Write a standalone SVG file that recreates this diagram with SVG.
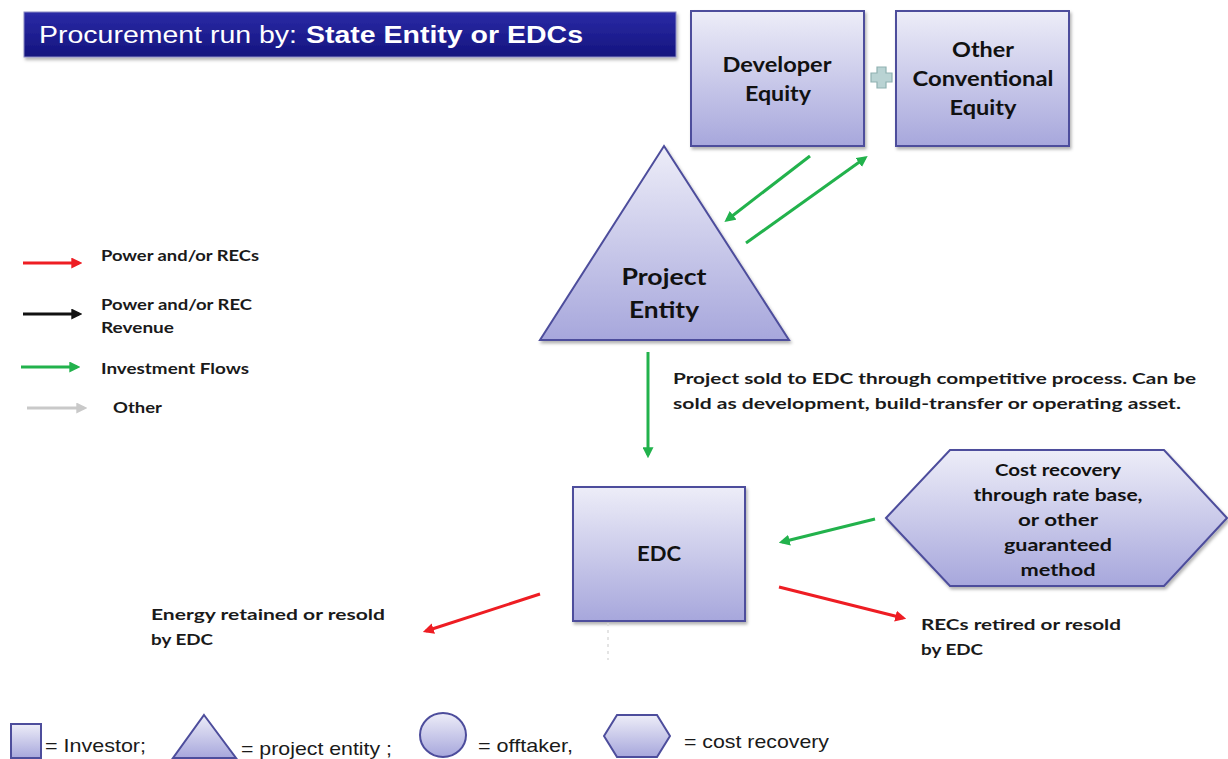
<svg xmlns="http://www.w3.org/2000/svg" width="1228" height="759" viewBox="0 0 1228 759">
  <style>
    .lbl { font-family: Lato, "Open Sans", "Liberation Sans", sans-serif; font-weight: 700; fill: #1a1a1a; }
    .node-lbl { font-family: Lato, "Open Sans", "Liberation Sans", sans-serif; font-weight: 700; fill: #111; text-anchor: middle; }
    .key { font-family: "Liberation Sans", Arial, sans-serif; fill: #1a1a1a; }
    .shape { fill: url(#shapeFill); stroke: #4d4d9c; stroke-width: 2; }
    .flow { fill: none; stroke-width: 3; }
    .green { stroke: #22b24c; }
    .red { stroke: #ee1d23; }
    .black { stroke: #111; }
    .grey { stroke: #c9c9c9; }
  </style>
  <defs>
    <linearGradient id="shapeFill" x1="0" y1="0" x2="0" y2="1">
      <stop offset="0" stop-color="#ededf8"/>
      <stop offset="1" stop-color="#a7a7dc"/>
    </linearGradient>
    <linearGradient id="titleFill" x1="0" y1="0" x2="0" y2="1">
      <stop offset="0" stop-color="#2a2aa6"/>
      <stop offset="1" stop-color="#14147e"/>
    </linearGradient>
    <filter id="shadow" x="-10%" y="-10%" width="125%" height="130%">
      <feDropShadow dx="1.5" dy="2.5" stdDeviation="1.8" flood-color="#000" flood-opacity="0.3"/>
    </filter>
    <marker id="ahGreen" viewBox="0 0 10 10" refX="7" refY="5" markerWidth="11" markerHeight="11" markerUnits="userSpaceOnUse" orient="auto">
      <path d="M0,0 L10,5 L0,10 z" fill="#22b24c"/>
    </marker>
    <marker id="ahRed" viewBox="0 0 10 10" refX="7" refY="5" markerWidth="11" markerHeight="11" markerUnits="userSpaceOnUse" orient="auto">
      <path d="M0,0 L10,5 L0,10 z" fill="#ee1d23"/>
    </marker>
    <marker id="ahBlack" viewBox="0 0 10 10" refX="7" refY="5" markerWidth="11" markerHeight="11" markerUnits="userSpaceOnUse" orient="auto">
      <path d="M0,0 L10,5 L0,10 z" fill="#111"/>
    </marker>
    <marker id="ahGrey" viewBox="0 0 10 10" refX="7" refY="5" markerWidth="11" markerHeight="11" markerUnits="userSpaceOnUse" orient="auto">
      <path d="M0,0 L10,5 L0,10 z" fill="#c9c9c9"/>
    </marker>
  </defs>

  <rect width="1228" height="759" fill="#fff"/>

  <!-- title banner -->
  <g id="title">
    <rect x="24" y="12" width="652" height="45" fill="url(#titleFill)" stroke="#8c8cc4" stroke-width="1" filter="url(#shadow)"/>
    <text x="39" y="43" font-family="'Liberation Sans', Arial, sans-serif" font-size="23" fill="#fff"><tspan textLength="258" lengthAdjust="spacingAndGlyphs">Procurement run by:</tspan><tspan x="306" font-weight="700" textLength="277" lengthAdjust="spacingAndGlyphs">State Entity or EDCs</tspan></text>
  </g>

  <!-- investors -->
  <g id="developer-equity">
    <rect class="shape" x="691" y="11" width="173" height="135" filter="url(#shadow)"/>
    <text class="node-lbl" x="777" y="72" font-size="21" textLength="109" lengthAdjust="spacingAndGlyphs">Developer</text>
    <text class="node-lbl" x="778" y="101" font-size="21" textLength="66" lengthAdjust="spacingAndGlyphs">Equity</text>
  </g>

  <g id="plus">
    <path d="M877,67 h9 v6 h6 v9 h-6 v6 h-9 v-6 h-6 v-9 h6 z" fill="#b9d3d3" stroke="#8fb1b1" stroke-width="1.2"/>
  </g>

  <g id="other-equity">
    <rect class="shape" x="896" y="11" width="173" height="135" filter="url(#shadow)"/>
    <text class="node-lbl" x="983" y="57" font-size="21" textLength="62" lengthAdjust="spacingAndGlyphs">Other</text>
    <text class="node-lbl" x="983" y="86" font-size="21" textLength="141" lengthAdjust="spacingAndGlyphs">Conventional</text>
    <text class="node-lbl" x="983" y="115" font-size="21" textLength="67" lengthAdjust="spacingAndGlyphs">Equity</text>
  </g>

  <!-- project entity -->
  <g id="project-entity">
    <polygon class="shape" points="664,146 789,340 540,340" filter="url(#shadow)"/>
    <text class="node-lbl" x="664" y="285" font-size="23" textLength="85" lengthAdjust="spacingAndGlyphs">Project</text>
    <text class="node-lbl" x="664" y="318" font-size="23" textLength="70" lengthAdjust="spacingAndGlyphs">Entity</text>
  </g>

  <!-- EDC -->
  <g id="edc">
    <rect class="shape" x="573" y="487" width="172" height="134" filter="url(#shadow)"/>
    <text class="node-lbl" x="659" y="561" font-size="20" textLength="44" lengthAdjust="spacingAndGlyphs">EDC</text>
  </g>

  <!-- cost recovery -->
  <g id="cost-recovery">
    <polygon class="shape" points="886,518 950,450 1164,450 1227,518 1164,586 950,586" filter="url(#shadow)"/>
    <text class="node-lbl" x="1058" y="476" font-size="17" textLength="126" lengthAdjust="spacingAndGlyphs">Cost recovery</text>
    <text class="node-lbl" x="1058" y="501" font-size="17" textLength="169" lengthAdjust="spacingAndGlyphs">through rate base,</text>
    <text class="node-lbl" x="1058" y="526" font-size="17" textLength="80" lengthAdjust="spacingAndGlyphs">or other</text>
    <text class="node-lbl" x="1058" y="551" font-size="17" textLength="108" lengthAdjust="spacingAndGlyphs">guaranteed</text>
    <text class="node-lbl" x="1058" y="576" font-size="17" textLength="75" lengthAdjust="spacingAndGlyphs">method</text>
  </g>

  <!-- flows between nodes -->
  <g id="connectors">
    <line class="flow green" x1="810" y1="156" x2="727" y2="220" marker-end="url(#ahGreen)"/>
    <line class="flow green" x1="746" y1="243" x2="865" y2="158" marker-end="url(#ahGreen)"/>
    <line class="flow green" x1="648" y1="352" x2="648" y2="455" marker-end="url(#ahGreen)"/>
    <line class="flow green" x1="875" y1="519" x2="782" y2="542" marker-end="url(#ahGreen)"/>
    <line class="flow red" x1="540" y1="594" x2="426" y2="631" marker-end="url(#ahRed)"/>
    <line class="flow red" x1="779" y1="587" x2="903" y2="618" marker-end="url(#ahRed)"/>
    <line x1="608" y1="623" x2="608" y2="660" stroke="#dcdcdc" stroke-width="1.5" stroke-dasharray="3 4"/>
  </g>

  <!-- flow annotations -->
  <g id="flow-labels">
    <text class="lbl" x="673" y="384" font-size="16" textLength="523" lengthAdjust="spacingAndGlyphs">Project sold to EDC through competitive process.  Can be</text>
    <text class="lbl" x="673" y="409" font-size="16" textLength="508" lengthAdjust="spacingAndGlyphs">sold as development, build-transfer or operating asset.</text>
    <text class="lbl" x="151" y="620" font-size="16" textLength="234" lengthAdjust="spacingAndGlyphs">Energy retained or resold</text>
    <text class="lbl" x="151" y="645" font-size="16" textLength="62" lengthAdjust="spacingAndGlyphs">by EDC</text>
    <text class="lbl" x="921" y="630" font-size="16" textLength="200" lengthAdjust="spacingAndGlyphs">RECs retired or resold</text>
    <text class="lbl" x="921" y="655" font-size="16" textLength="62" lengthAdjust="spacingAndGlyphs">by EDC</text>
  </g>

  <!-- arrow colour key -->
  <g id="arrow-key">
    <line class="flow red" x1="23" y1="263" x2="79" y2="263" marker-end="url(#ahRed)"/>
    <text class="lbl" x="101" y="261" font-size="16" textLength="158" lengthAdjust="spacingAndGlyphs">Power and/or RECs</text>
    <line class="flow black" x1="23" y1="314" x2="79" y2="314" marker-end="url(#ahBlack)"/>
    <text class="lbl" x="101" y="310" font-size="16" textLength="151" lengthAdjust="spacingAndGlyphs">Power and/or REC</text>
    <text class="lbl" x="101" y="333" font-size="16" textLength="73" lengthAdjust="spacingAndGlyphs">Revenue</text>
    <line class="flow green" x1="21" y1="367" x2="77" y2="367" marker-end="url(#ahGreen)"/>
    <text class="lbl" x="101" y="374" font-size="16" textLength="148" lengthAdjust="spacingAndGlyphs">Investment Flows</text>
    <line class="flow grey" x1="27" y1="408" x2="84" y2="408" marker-end="url(#ahGrey)"/>
    <text class="lbl" x="113" y="413" font-size="16" textLength="49" lengthAdjust="spacingAndGlyphs">Other</text>
  </g>

  <!-- shape key -->
  <g id="shape-key">
    <rect class="shape" x="11" y="724" width="30" height="34"/>
    <text class="key" x="45" y="752" font-size="19" textLength="101" lengthAdjust="spacingAndGlyphs">= Investor;</text>
    <polygon class="shape" points="204,715 236,758 173,758"/>
    <text class="key" x="241" y="755" font-size="19" textLength="151" lengthAdjust="spacingAndGlyphs">= project entity ;</text>
    <ellipse class="shape" cx="443" cy="735" rx="23" ry="22"/>
    <text class="key" x="478" y="752" font-size="19" textLength="95" lengthAdjust="spacingAndGlyphs">= offtaker,</text>
    <polygon class="shape" points="604,736 617,715 657,715 670,736 657,757 617,757"/>
    <text class="key" x="684" y="748" font-size="19" textLength="145" lengthAdjust="spacingAndGlyphs">= cost recovery</text>
  </g>
</svg>
